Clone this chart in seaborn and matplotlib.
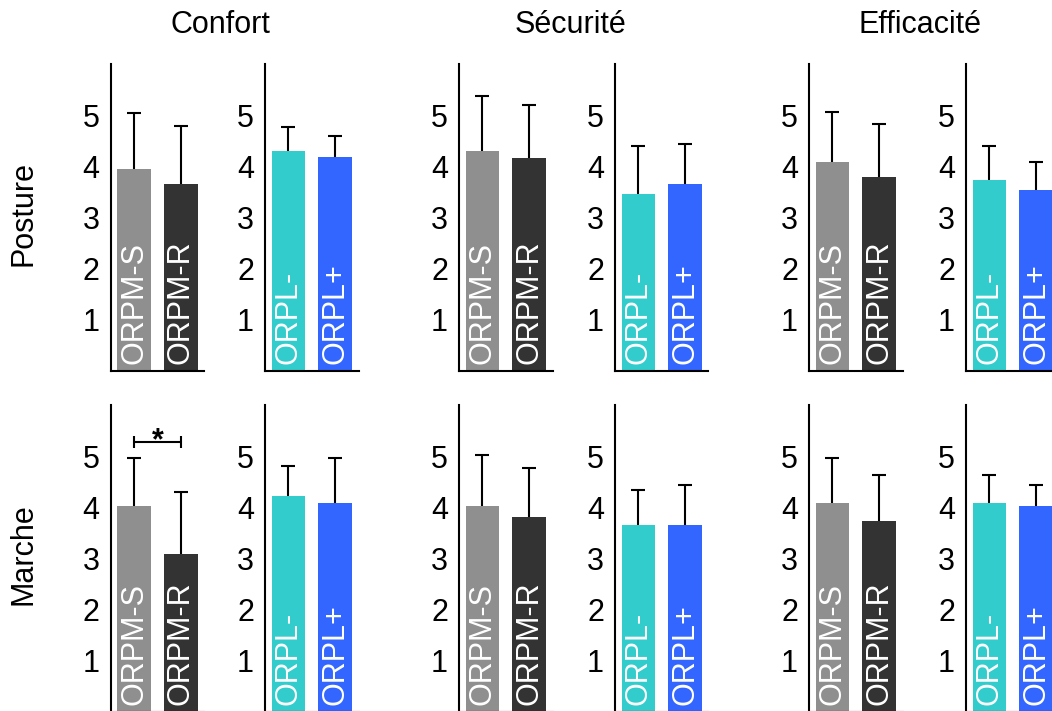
import numpy as np
import pandas as pd
import matplotlib
matplotlib.use("Agg")
import matplotlib.pyplot as plt
import seaborn as sns

# categories
conditions = ["Posture", "Marche"]
criteria = ["Confort", "Sécurité", "Efficacité"]
orpm_labels = ["ORPM-S", "ORPM-R"]
orpl_labels = ["ORPL-", "ORPL+"]

# moyennes / écarts-types (Confort, Sécurité, Efficacité)
posture_orpm_mean = [[3.95, 3.66], [4.29, 4.16], [4.08, 3.80]]
posture_orpm_sd = [[1.09, 1.13], [1.09, 1.03], [0.99, 1.03]]
posture_orpl_mean = [[4.29, 4.19], [3.46, 3.66], [3.74, 3.54]]
posture_orpl_sd = [[0.47, 0.41], [0.94, 0.78], [0.66, 0.55]]

marche_orpm_mean = [[4.02, 3.08], [4.02, 3.82], [4.09, 3.74]]
marche_orpm_sd = [[0.94, 1.21], [1.01, 0.94], [0.87, 0.90]]
marche_orpl_mean = [[4.22, 4.09], [3.66, 3.66], [4.09, 4.02]]
marche_orpl_sd = [[0.59, 0.87], [0.68, 0.78], [0.55, 0.42]]

# différence significative : (condition, critère, groupe, hauteur)
signif = [("Marche", "Confort", "ORPM", 5.28)]

yticks = [1, 2, 3, 4, 5]

orpm_colors = ["#8f8f8f", "#333333"]
orpl_colors = ["#33cccc", "#3366ff"]

sns.set_style("white")
plt.rcParams['font.family'] = ['Liberation Sans', 'DejaVu Sans']
plt.rcParams['text.color'] = 'black'
plt.rcParams['ytick.color'] = 'black'

fig = plt.figure(figsize=(10.52, 7.11), dpi=100)

W, H = 1052, 711
col_left = [110.7, 265, 459, 615, 809, 966]
ax_w = 93.5
row_top = {"Posture": 64, "Marche": 405}
ax_h = 307

data = {
    "Posture": [(posture_orpm_mean, posture_orpm_sd), (posture_orpl_mean, posture_orpl_sd)],
    "Marche": [(marche_orpm_mean, marche_orpm_sd), (marche_orpl_mean, marche_orpl_sd)],
}

for r, cond in enumerate(conditions):
    for c, crit in enumerate(criteria):
        for g in range(2):
            means, sds = data[cond][g]
            labels = orpm_labels if g == 0 else orpl_labels
            colors = orpm_colors if g == 0 else orpl_colors
            m = means[c]
            s = sds[c]
            left = col_left[c * 2 + g]
            top = row_top[cond]
            ax = fig.add_axes([left / W, 1 - (top + ax_h) / H, ax_w / W, ax_h / H])

            df = pd.DataFrame({"label": labels, "moyenne": m})
            sns.barplot(data=df, x="label", y="moyenne", hue="label",
                        palette=colors, width=0.72, ax=ax, legend=False,
                        saturation=1, edgecolor="none")
            eb = ax.errorbar(np.arange(2), m, yerr=[np.zeros(2), s], fmt="none",
                             ecolor="black", elinewidth=1.5, capsize=4.8,
                             capthick=1.5, zorder=1)
            # garder seulement les barres du haut
            for cap in eb[1]:
                if np.allclose(cap.get_ydata(), m):
                    cap.set_visible(False)

            for i, lab in enumerate(labels):
                ax.text(i, 0.13, lab, rotation=90, ha="center", va="bottom",
                        color="white", fontsize=22)

            for (sc, scr, sg, sy) in signif:
                if sc == cond and scr == crit and sg == labels[0][:4]:
                    ax.plot([0, 1], [sy, sy], color="black", lw=1.5,
                            marker="|", markersize=9, mew=1.5)
                    ax.text(0.5, sy - 0.15, "*", ha="center", va="baseline",
                            fontsize=22, fontweight="bold")

            ax.set_xlim(-0.5, 1.5)
            ax.set_ylim(0, 6)
            ax.set_yticks(yticks)
            ax.set_xticks([])
            ax.set_xlabel("")
            ax.set_ylabel("")
            ax.tick_params(axis="y", direction="in", length=4, width=1,
                           labelsize=22, pad=8, colors="black")
            for sp in ["top", "right"]:
                ax.spines[sp].set_visible(False)
            for sp in ["left", "bottom"]:
                ax.spines[sp].set_linewidth(1.5)
                ax.spines[sp].set_color("black")

# titres des colonnes
title_x = [220, 570, 920]
for crit, tx in zip(criteria, title_x):
    fig.text(tx / W, 1 - 25 / H, crit, ha="center", va="center", fontsize=22)

# étiquettes des lignes
for cond in conditions:
    cy = row_top[cond] + ax_h / 2 - 4
    fig.text(24 / W, 1 - cy / H, cond, ha="center", va="center",
             rotation=90, fontsize=22)

fig.savefig("out.png", dpi=100)
